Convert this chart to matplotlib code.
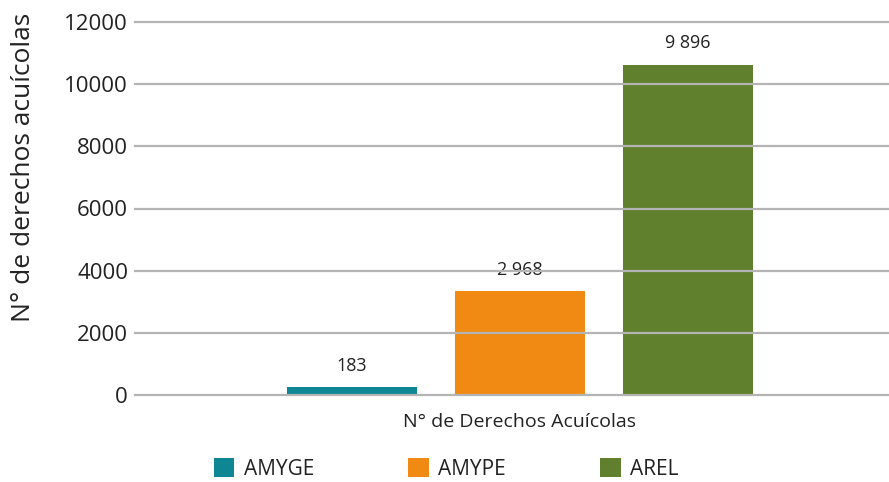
import matplotlib
matplotlib.use("Agg")
import matplotlib.pyplot as plt
from matplotlib.patches import Patch
import numpy as np

# bar heights as drawn in the reference, and the printed labels
series = ["AMYGE", "AMYPE", "AREL"]
bar_heights = [250, 3330, 10620]
value_labels = ["183", "2 968", "9 896"]
colors = ["#0e8693", "#f08a12", "#60802e"]
category = "N° de Derechos Acuícolas"
y_ticks = [0, 2000, 4000, 6000, 8000, 10000, 12000]

plt.rcParams["font.family"] = ["Open Sans", "DejaVu Sans"]
text_color = "#222222"
grid_color = "#b4b4b4"

fig = plt.figure(figsize=(8.89, 4.82), dpi=100)
# axes box in pixels: x 135..889, y 22..395 (from top)
ax = fig.add_axes([135 / 889, 1 - 395 / 482, (889 - 135) / 889, (395 - 22) / 482])

x = np.arange(len(series))
ax.bar(x, bar_heights, width=0.77, color=colors, zorder=1)

for xi, h, lab in zip(x, bar_heights, value_labels):
    ax.annotate(lab, (xi, h), xytext=(0, 9), textcoords="offset points",
                ha="center", va="bottom", fontsize=13, color=text_color)

ax.set_xlim(-1.29, 3.196)
ax.set_ylim(0, 12000)
ax.set_yticks(y_ticks)
ax.set_yticklabels([str(t) for t in y_ticks], fontsize=16, color=text_color)
ax.set_xticks([1])
ax.set_xticklabels([category], fontsize=14, color=text_color)
ax.tick_params(axis="both", length=0)
ax.tick_params(axis="y", pad=5)
ax.tick_params(axis="x", pad=13)

for t in y_ticks:
    ax.axhline(t, color=grid_color, lw=1.6, zorder=3, clip_on=False)

for s in ax.spines.values():
    s.set_visible(False)

ax.set_ylabel("N° de derechos acuícolas", fontsize=19, color=text_color)
ax.yaxis.set_label_coords(-0.131, 0.609)

handles = [Patch(facecolor=c, edgecolor="none", label=s) for s, c in zip(series, colors)]
fig.legend(handles=handles, loc="center", bbox_to_anchor=(446 / 889, 1 - 469 / 482),
           ncol=3, frameon=False, fontsize=15, handlelength=1.0, handleheight=1.0,
           handletextpad=0.45, columnspacing=4.5, labelcolor=text_color)

fig.savefig("out.png", dpi=100)
